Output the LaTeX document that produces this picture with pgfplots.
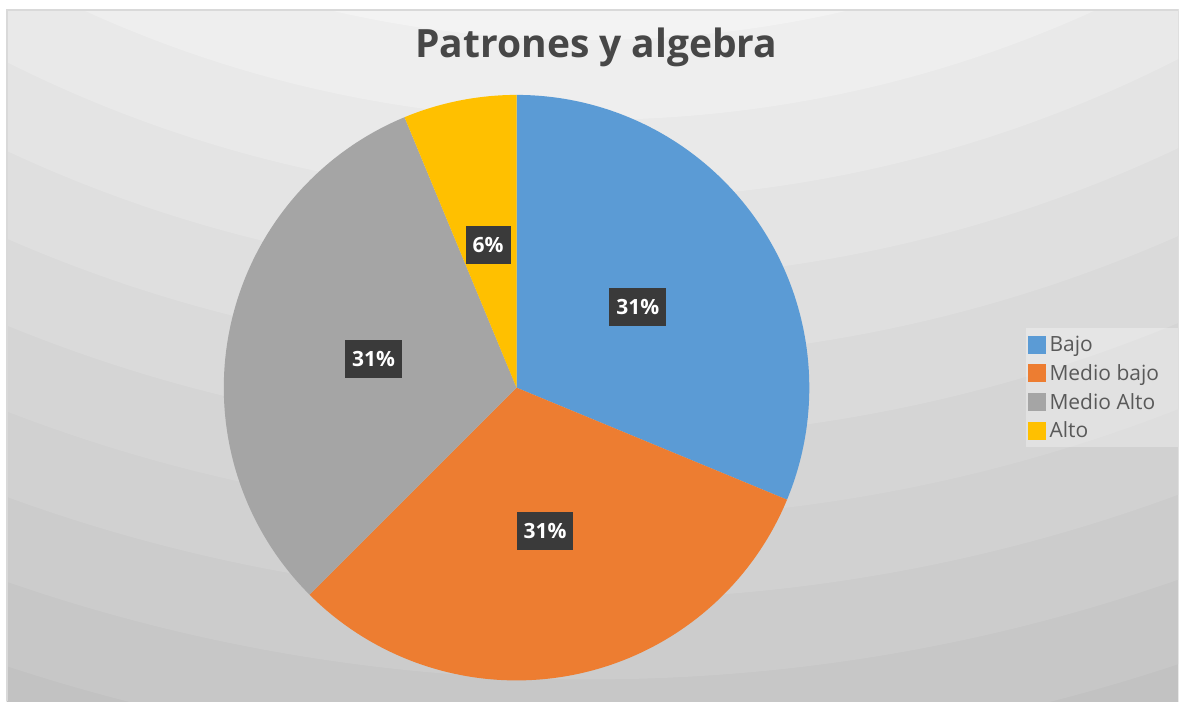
\documentclass[border=0pt]{standalone}
\usepackage{fontspec}
\setmainfont{Open Sans}
\usepackage{pgfplots}
\usepackage{pgfplotstable}
\pgfplotsset{compat=1.18}

\definecolor{cBajo}{HTML}{5B9BD5}
\definecolor{cMedioBajo}{HTML}{ED7D31}
\definecolor{cMedioAlto}{HTML}{A5A5A5}
\definecolor{cAlto}{HTML}{FFC000}
\definecolor{titletxt}{HTML}{474747}
\definecolor{legtxt}{HTML}{595959}
\definecolor{lblbox}{HTML}{3A3A3A}

% counts per level (5,5,5,1 of 16)
\pgfplotstableread[col sep=comma]{
label,value,colour
Bajo,5,cBajo
Medio bajo,5,cMedioBajo
Medio Alto,5,cMedioAlto
Alto,1,cAlto
}\piedata

\begin{document}
\begin{tikzpicture}
\begin{axis}[
  scale only axis, width=589.5pt, height=351pt,
  xmin=0, xmax=1179, ymin=0, ymax=702,
  hide axis, clip=false]
\pgfplotsextra{
  % page and shaded chart area
  \fill[white] (axis cs:0,0) rectangle (axis cs:1179,702);
  \begin{scope}
    \clip (axis cs:7,0) rectangle (axis cs:1179,692);
    \foreach \r in {2100,2020,...,1060}{
      \pgfmathtruncatemacro\g{min(245,max(185,234-0.062*(\r-40-1257)))}
      \definecolor{band}{RGB}{\g,\g,\g}
      \fill[band] (axis cs:590,1802) circle[radius=\r*0.5pt];
    }
  \end{scope}
  \draw[black!15, line width=1pt] (axis cs:7,0) -- (axis cs:7,692) -- (axis cs:1179,692);

  % total
  \xdef\total{0}
  \foreach \i in {0,...,3}{
    \pgfplotstablegetelem{\i}{value}\of\piedata
    \pgfmathsetmacro\t{\total+\pgfplotsretval}
    \xdef\total{\t}
  }

  % slices, clockwise from the top
  \xdef\acc{90}
  \foreach \i in {0,...,3}{
    \pgfplotstablegetelem{\i}{value}\of\piedata \let\v\pgfplotsretval
    \pgfplotstablegetelem{\i}{colour}\of\piedata \let\slicecol\pgfplotsretval
    \pgfmathsetmacro\sw{360*\v/\total}
    \pgfmathsetmacro\endang{\acc-\sw}
    \fill[\slicecol] (axis cs:517,314) -- ++(\acc:146.5pt)
      arc[start angle=\acc, end angle=\endang, radius=146.5pt] -- cycle;
    \xdef\acc{\endang}
  }

  % data labels
  \xdef\acc{90}
  \foreach \i in {0,...,3}{
    \pgfplotstablegetelem{\i}{value}\of\piedata \let\v\pgfplotsretval
    \pgfmathsetmacro\sw{360*\v/\total}
    \pgfmathsetmacro\mid{\acc-\sw/2}
    \pgfmathtruncatemacro\pct{round(100*\v/\total)}
    \path (axis cs:517,314) ++(\mid:73pt) node[fill=lblbox, text=white,
      font=\bfseries\fontsize{10.5}{12}\selectfont, inner xsep=3.5pt,
      minimum height=19pt] {\pct\%};
    \pgfmathsetmacro\endang{\acc-\sw}
    \xdef\acc{\endang}
  }

  % title
  \node[anchor=base, text=titletxt, font=\bfseries\fontsize{19.5}{23}\selectfont]
    at (axis cs:597,644) {Patrones y algebra};

  % legend
  \fill[white, opacity=0.3] (axis cs:1027,255) rectangle (axis cs:1179,374);
  \foreach \i in {0,...,3}{
    \pgfplotstablegetelem{\i}{label}\of\piedata \let\lab\pgfplotsretval
    \pgfplotstablegetelem{\i}{colour}\of\piedata \let\slicecol\pgfplotsretval
    \pgfmathsetmacro\yy{357-28.7*\i}
    \fill[\slicecol] (axis cs:1037.5,\yy) ++(-4.5pt,-4.5pt) rectangle ++(9pt,9pt);
    \node[anchor=base west, inner sep=0pt, text=legtxt,
      font=\fontsize{10.5}{12}\selectfont] at (axis cs:1050,\yy-7) {\lab};
  }
}
\end{axis}
\end{tikzpicture}
\end{document}
